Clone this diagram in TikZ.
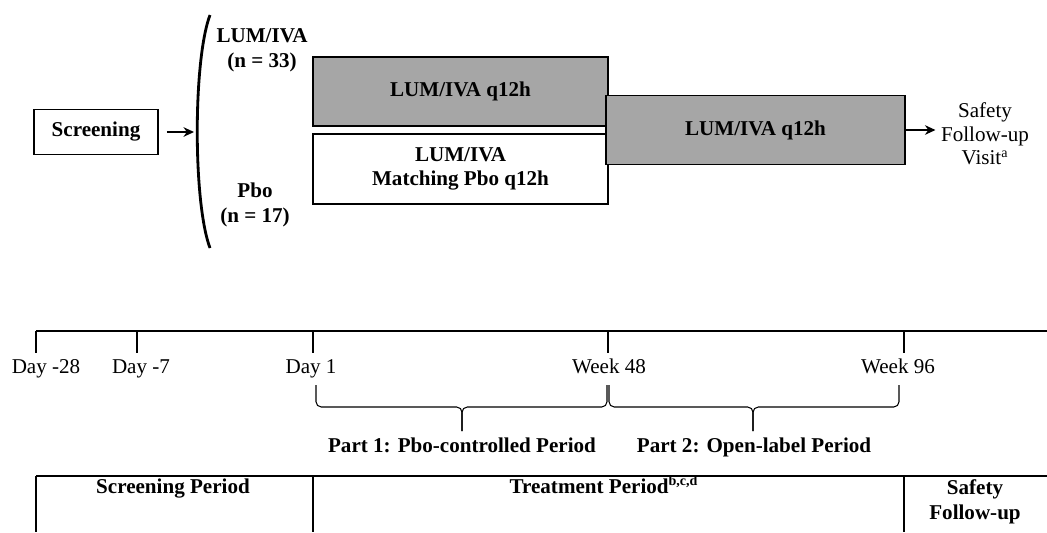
\documentclass[tikz,border=0pt]{standalone}
\usepackage{fontspec}
\setmainfont{Liberation Serif}
\usetikzlibrary{arrows.meta}

\begin{document}
\begin{tikzpicture}[x=0.02cm,y=-0.02cm,
  font=\fontsize{12}{14}\selectfont,
  armbox/.style={draw,line width=1.1pt,minimum width=5.9cm,minimum height=1.38cm,
    align=center,font=\fontsize{12}{14}\selectfont\bfseries},
  lbl/.style={align=center,font=\fontsize{12}{14}\selectfont\bfseries},
  arr/.style={-{Stealth[length=6pt,width=5.5pt]},line width=0.8pt},
  thin line/.style={line width=0.6pt}]
  \useasboundingbox (0,0) rectangle (1047,532);
  % top: randomisation
  \node[draw,line width=1.1pt,minimum width=2.48cm,minimum height=0.9cm,font=\fontsize{12}{14}\selectfont\bfseries] (scr) at (96,132) {Screening};
  \coordinate (brk) at (194,132);
  \draw[arr] ([xshift=0.16cm]scr.east) -- (brk);
  \draw[line width=1.6pt] (210,15) .. controls (193,60) and (193,203) .. (210,248);
  \node[lbl] (lumn) at (262,50) {LUM/IVA\\(n = 33)};
  \node[lbl] (pbon) at (255,205) {Pbo\\(n = 17)};
  \node[armbox,fill=black!35] (lum) at (460.5,91.5) {LUM/IVA q12h};
  \node[armbox,minimum height=1.4cm] (pbo) at (460.5,169) {LUM/IVA\\Matching Pbo q12h};
  \node[armbox,fill=black!35,minimum width=5.98cm] (ol) at (755.5,130) {LUM/IVA q12h};
  \node[align=center,font=\fontsize{12}{13.5}\selectfont,inner sep=1pt] (fu) at (985,134) {Safety\\Follow-up\\Visit\textsuperscript{a}};
  \draw[arr,shorten >=2pt] (ol.east) -- (ol.east -| fu.west);
  % timeline
  \draw[thin line] (36,331) -- (1047,331);
  \foreach \x/\t/\lx in {36/Day -28/46,137/Day -7/141,313/Day 1/311,608/Week 48/609,904/Week 96/898}
    {\draw[thin line] (\x,331) -- (\x,353);
     \node[anchor=base] at (\lx,373) {\t};}
  % braces
  \draw[thin line,rounded corners=3pt] (316,385) |- (462,407) -- (462,431);
  \draw[thin line,rounded corners=3pt] (462,431) -- (462,407) -| (607,385);
  \draw[thin line,rounded corners=3pt] (609,385) |- (753,407) -- (753,431);
  \draw[thin line,rounded corners=3pt] (753,431) -- (753,407) -| (899,385);
  \node[lbl,anchor=base] (p1) at (462,452) {Part 1: Pbo-controlled Period};
  \node[lbl,anchor=base] (p2) at (754,452) {Part 2: Open-label Period};
  % periods
  \draw[thin line] (36,476) -- (1047,476);
  \foreach \x in {36,313,904}
    \draw[thin line] (\x,476) -- (\x,532);
  \node[lbl,anchor=base] (sp) at (173,493) {Screening Period};
  \node[lbl,anchor=base] (tp) at (604,493) {Treatment Period\textsuperscript{b,c,d}};
  \node[lbl] (sf) at (975,502) {Safety\\Follow-up};
\end{tikzpicture}
\end{document}
